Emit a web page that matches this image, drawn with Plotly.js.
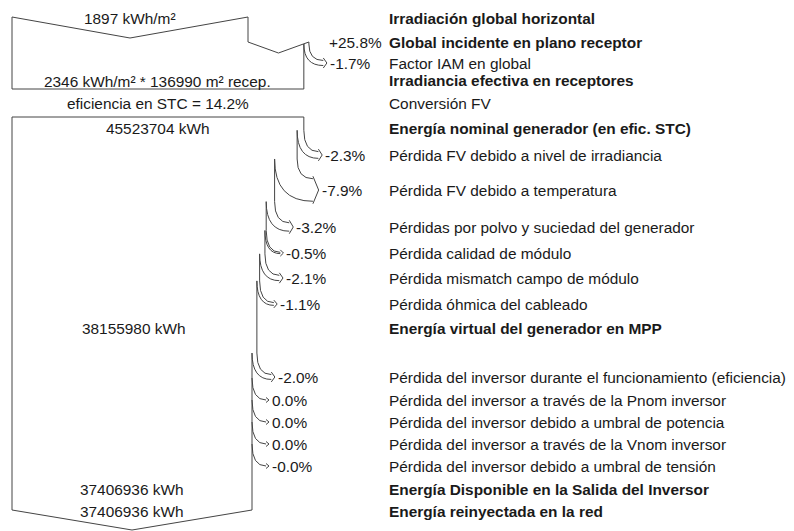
<!DOCTYPE html>
<html>
<head>
<meta charset="utf-8">
<script src="https://cdn.plot.ly/plotly-3.0.1.min.js"></script>
<style>body{margin:0;background:#fff}#chart{width:794px;height:531px}</style>
</head>
<body>
<div id="chart"></div>
<script>
// irradiation part (kWh/m2)
var ghi = 1897;
var globalInc = 2346;
var recepArea = 136990;
var effSTC = 14.2;
var gainPct = 25.8;
var iamPct = -1.7;
var irrLabels = ["Irradiación global horizontal", "Global incidente en plano receptor", "Factor IAM en global", "Irradiancia efectiva en receptores", "Conversión FV"];
var irrBold = [true, true, false, true, false];

// energy part (kWh)
var energyLabels = ["Energía nominal generador (en efic. STC)", "Energía virtual del generador en MPP", "Energía Disponible en la Salida del Inversor", "Energía reinyectada en la red"];
var energyKWh = [45523704, 38155980, 37406936, 37406936];

var arrayLossLabels = ["Pérdida FV debido a nivel de irradiancia", "Pérdida FV debido a temperatura", "Pérdidas por polvo y suciedad del generador", "Pérdida calidad de módulo", "Pérdida mismatch campo de módulo", "Pérdida óhmica del cableado"];
var arrayLossPct = [-2.3, -7.9, -3.2, -0.5, -2.1, -1.1];

var invLossLabels = ["Pérdida del inversor durante el funcionamiento (eficiencia)", "Pérdida del inversor a través de la Pnom inversor", "Pérdida del inversor debido a umbral de potencia", "Pérdida del inversor a través de la Vnom inversor", "Pérdida del inversor debido a umbral de tensión"];
var invLossPct = [-2.0, 0.0, 0.0, 0.0, -0.0];

// layout (pixels, y goes down)
var X0 = 12, W0 = 236, LABEL_X = 387;
var irrRowY = [18, 42, 63, 80, 103];
var energyRowY = [128, 328, 489, 511];
var arrayLossY = [155, 190, 227, 253, 278, 304];
var invLossY = [377, 400, 422, 444, 466];
var FONT = "Liberation Sans, Arial, sans-serif";
var INK = "#1a1a1a";
var FS = 15.4;

var shapes = [], annotations = [];

function seg(pts) {
  var d = pts.map(function (p, i) { return (i ? "L" : "M") + p[0].toFixed(2) + "," + p[1].toFixed(2); }).join(" ");
  shapes.push({type: "path", xref: "x", yref: "y", path: d, line: {color: "#444", width: 1}});
}
function curve(d) {
  shapes.push({type: "path", xref: "x", yref: "y", path: d, line: {color: "#444", width: 1}});
}
function text(x, y, s, anchor, bold) {
  annotations.push({x: x, y: y, xref: "x", yref: "y", text: bold ? "<b>" + s + "</b>" : s,
    showarrow: false, xanchor: anchor, yanchor: "middle",
    font: {family: FONT, size: FS, color: INK}});
}
function pctText(v) {
  var neg = v < 0 || (v === 0 && 1 / v < 0);
  return (neg ? "-" : (v > 0 ? "+" : "")) + Math.abs(v).toFixed(1) + "%";
}
function f(n) { return n.toFixed(2); }

// band leaving the right edge (xOld -> xNew) and turning right towards its row
function lossArrow(xOld, xNew, y0, yl, pct) {
  var w = xOld - xNew;
  var tip = xOld + 17 + w * 0.2;
  var base = tip - 3 - w * 0.12;
  curve("M" + f(xOld) + "," + f(y0) + " Q" + f(xOld) + "," + f(yl - w / 2) + " " + f(base) + "," + f(yl - w / 2));
  if (w > 0.5) curve("M" + f(xNew) + "," + f(y0) + " Q" + f(xNew) + "," + f(yl + w / 2) + " " + f(base) + "," + f(yl + w / 2));
  seg([[base, yl - w / 2 - 2.5], [tip, yl], [base, yl + w / 2 + 2.5]]);
  text(tip + 1, yl, pctText(pct), "left", false);
}

// ---- irradiation box
var xGain = X0 + W0 * (1 + gainPct / 100);
var xEff = X0 + W0 * (1 + gainPct / 100) * (1 + iamPct / 100);
seg([[X0, 89], [X0, 17], [X0 + W0 / 2, 38], [X0 + W0, 17], [X0 + W0, 42], [(X0 + W0 + xGain) / 2, 53], [xGain, 42], [xGain, 44]]);
lossArrow(xGain, xEff, 44, irrRowY[2], iamPct);
seg([[xEff, 44], [xEff, 89], [X0, 89]]);
text(X0 + W0 / 2, irrRowY[0], ghi + " kWh/m²", "center", false);
text(384, irrRowY[1], pctText(gainPct), "right", false);
text((X0 + xEff) / 2, 81, globalInc + " kWh/m² * " + recepArea + " m² recep.", "center", false);
text((X0 + xEff) / 2, irrRowY[4], "eficiencia en STC = " + effSTC.toFixed(1) + "%", "center", false);
irrLabels.forEach(function (s, i) { text(LABEL_X, irrRowY[i], s, "left", irrBold[i]); });

// ---- energy box
var kx = (xEff - X0) / energyKWh[0];
var cur = X0 + kx * energyKWh[0], yStart = 117;
seg([[X0, 510], [X0, 117], [cur, 117]]);
text((X0 + cur) / 2, energyRowY[0], energyKWh[0] + " kWh", "center", false);

function runLosses(pcts, ys, labels) {
  pcts.forEach(function (p, i) {
    var xNew = X0 + (cur - X0) * (1 + p / 100);
    var w = cur - xNew;
    var y0 = ys[i] - 22 - 0.4 * w;
    seg([[cur, yStart], [cur, y0]]);
    lossArrow(cur, xNew, y0, ys[i], p);
    text(LABEL_X, ys[i], labels[i], "left", false);
    cur = xNew; yStart = y0;
  });
}
runLosses(arrayLossPct, arrayLossY, arrayLossLabels);
text((X0 + cur) / 2, energyRowY[1], energyKWh[1] + " kWh", "center", false);
runLosses(invLossPct, invLossY, invLossLabels);
seg([[cur, yStart], [cur, 510], [(X0 + cur) / 2, 530], [X0, 510]]);
text((X0 + cur) / 2, energyRowY[2], energyKWh[2] + " kWh", "center", false);
text((X0 + cur) / 2, energyRowY[3], energyKWh[3] + " kWh", "center", false);
energyLabels.forEach(function (s, i) { text(LABEL_X, energyRowY[i], s, "left", true); });

var layout = {
  width: 794, height: 531,
  margin: {l: 0, r: 0, t: 0, b: 0},
  paper_bgcolor: "#fff", plot_bgcolor: "#fff",
  xaxis: {range: [0, 794], visible: false, fixedrange: true},
  yaxis: {range: [531, 0], visible: false, fixedrange: true},
  showlegend: false,
  shapes: shapes,
  annotations: annotations
};

Plotly.newPlot("chart", [], layout, {staticPlot: true, displayModeBar: false});
</script>
</body>
</html>
